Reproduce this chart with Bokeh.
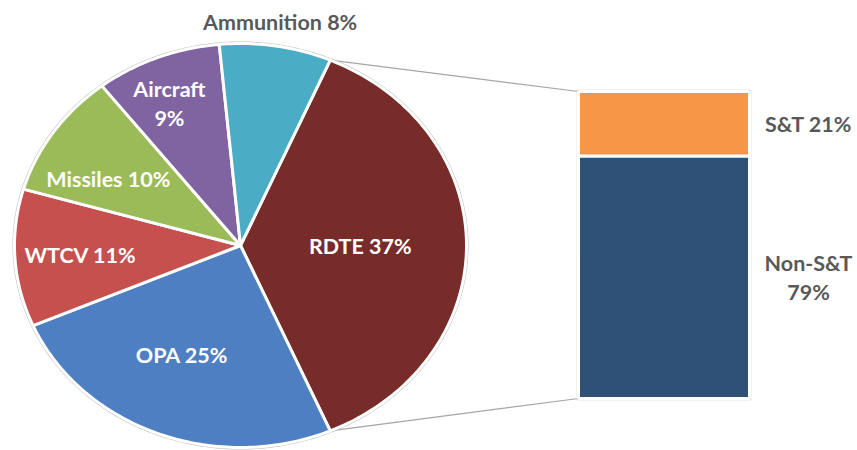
import math
from bokeh.plotting import figure
from bokeh.models import Range1d, ColumnDataSource
from bokeh.core.properties import value
from bokeh.embed import file_html
from bokeh.resources import INLINE

# ---- data ----
pie_categories = ["RDTE", "OPA", "WTCV", "Missiles", "Aircraft", "Ammunition"]
pie_values = [37, 25, 11, 10, 9, 8]
bar_categories = ["Non-S&T", "S&T"]
bar_values = [79, 21]

# ---- styles ----
pie_colors = ["#772C2A", "#4E7FC3", "#C6504E", "#9BBB59", "#8064A2", "#4BACC6"]
bar_colors = ["#2F5077", "#F79646"]
pie_label_text = ["RDTE 37%", "OPA 25%", "WTCV 11%", "Missiles 10%", "Aircraft\n9%", "Ammunition 8%"]
pie_label_color = ["white", "white", "white", "white", "white", "#595959"]
pie_label_radius = [0.53, 0.60, 0.71, 0.67, 0.77, 1.12]
pie_label_angle_shift = [0, 4, 0, -5, -2.5, 0]
bar_label_text = ["Non-S&T\n79%", "S&T 21%"]

# ---- layout (pixel-like coordinates) ----
W, H = 857, 450
CX, CY, RX, RY = 240.0, 245.0, 226.0, 202.0
BAR_L, BAR_R, BAR_BOTTOM, BAR_H = 578.0, 749.0, 398.0, 307.0
BAR_LABEL_X = 808.0
FONT = value("Lato")
FSIZE = "21.5px"

p = figure(width=W, height=H, x_range=Range1d(0, W), y_range=Range1d(H, 0),
           output_backend="svg", toolbar_location=None, min_border=0,
           x_axis_type=None, y_axis_type=None)
p.grid.visible = False
p.outline_line_color = None
p.background_fill_color = "white"

total = float(sum(pie_values))
# first slice (the split one) is centered at 3 o'clock
start = 90.0 - pie_values[0] / total * 360.0 / 2.0

def pt(theta_deg, r=1.0):
    t = math.radians(theta_deg)
    return CX + RX * r * math.sin(t), CY - RY * r * math.cos(t)

xs, ys, mids = [], [], []
a = start
for v in pie_values:
    span = v / total * 360.0
    n = max(8, int(span))
    px, py = [CX], [CY]
    for i in range(n + 1):
        x, y = pt(a + span * i / n)
        px.append(x); py.append(y)
    xs.append(px); ys.append(py)
    mids.append(a + span / 2.0)
    a += span

rdte_a0 = start
rdte_a1 = start + pie_values[0] / total * 360.0

# connector lines
bar_top_px = BAR_BOTTOM - BAR_H
x0, y0 = pt(rdte_a0)
x1, y1 = pt(rdte_a1)
p.segment(x0=[x0, x1], y0=[y0, y1], x1=[BAR_L, BAR_L], y1=[bar_top_px, BAR_BOTTOM],
          line_color="#A6A6A6", line_width=1.2)

# outer subtle rim
rim_x = [pt(t)[0] for t in range(0, 361)]
rim_y = [pt(t)[1] for t in range(0, 361)]
p.line(rim_x, rim_y, line_color="#BFBFBF", line_width=4)

# pie
p.patches(xs=xs, ys=ys, fill_color=pie_colors, line_color="white", line_width=3,
          line_join="round")

# bar of pie
bottoms, tops = [], []
cum = 0.0
for v in bar_values:
    bottoms.append(BAR_BOTTOM - cum / 100.0 * BAR_H)
    cum += v
    tops.append(BAR_BOTTOM - cum / 100.0 * BAR_H)
p.quad(left=[BAR_L - 1], right=[BAR_R + 1], bottom=[BAR_BOTTOM + 1], top=[bar_top_px - 1],
       fill_color=None, line_color="#C8C8C8", line_width=1.5)
p.quad(left=[BAR_L] * 2, right=[BAR_R] * 2, bottom=bottoms, top=tops,
       fill_color=bar_colors, line_color="white", line_width=3)

# pie labels
angs = [m + s for m, s in zip(mids, pie_label_angle_shift)]
lx = [pt(m, r)[0] for m, r in zip(angs, pie_label_radius)]
ly = [pt(m, r)[1] for m, r in zip(angs, pie_label_radius)]
src = ColumnDataSource(dict(x=lx, y=ly, t=pie_label_text, c=pie_label_color))
p.text(x="x", y="y", text="t", text_color="c", source=src, text_font=FONT,
       text_font_style="bold", text_font_size=FSIZE, text_align="center",
       text_baseline="middle", text_line_height=1.1)

# bar labels
bly = [(b + t) / 2.0 for b, t in zip(bottoms, tops)]
p.text(x=[BAR_LABEL_X] * 2, y=bly, text=bar_label_text, text_color="#595959",
       text_font=FONT, text_font_style="bold", text_font_size=FSIZE,
       text_align="center", text_baseline="middle", text_line_height=1.1)

open("out.html", "w").write(file_html(p, INLINE))
